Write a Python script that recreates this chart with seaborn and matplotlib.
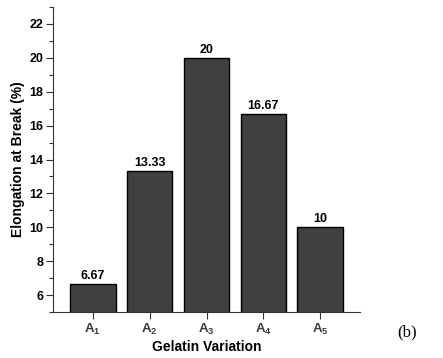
import matplotlib
matplotlib.use("Agg")
import matplotlib.pyplot as plt
import seaborn as sns
import pandas as pd
from matplotlib.ticker import MultipleLocator

categories = ["A1", "A2", "A3", "A4", "A5"]
tick_labels = [r"$\mathbf{A}_{\mathbf{1}}$", r"$\mathbf{A}_{\mathbf{2}}$", r"$\mathbf{A}_{\mathbf{3}}$",
               r"$\mathbf{A}_{\mathbf{4}}$", r"$\mathbf{A}_{\mathbf{5}}$"]
values = [6.67, 13.33, 20, 16.67, 10]
value_labels = ["6.67", "13.33", "20", "16.67", "10"]

sns.set_theme(style="ticks")
plt.rcParams["font.family"] = ["Liberation Sans", "DejaVu Sans"]
plt.rcParams["font.weight"] = "bold"
plt.rcParams["mathtext.fontset"] = "custom"
plt.rcParams["mathtext.rm"] = "Liberation Sans"
plt.rcParams["mathtext.bf"] = "Liberation Sans:bold"

df = pd.DataFrame({"cat": categories, "val": values})

fig = plt.figure(figsize=(4.43, 3.58), dpi=100)
ax = fig.add_axes([53/443, 46/358, 307/443, 305/358])
sns.barplot(data=df, x="cat", y="val", ax=ax, color="#404040", edgecolor="black",
            linewidth=1.0, width=0.8, saturation=1)
for p in ax.patches:
    p.set_facecolor("#404040")

for i, (v, lab) in enumerate(zip(values, value_labels)):
    ax.text(i, v + 0.12, lab, ha="center", va="bottom", fontsize=9, fontweight="bold", color="black")

ax.set_ylim(5, 23)
ax.set_xlim(-0.7, 4.7)
ax.yaxis.set_minor_locator(MultipleLocator(1))
ax.set_yticks([6, 8, 10, 12, 14, 16, 18, 20, 22])
ax.set_xticks(range(5))
ax.set_xticklabels(tick_labels, fontsize=9.5, color="#3a3a3a")
ax.tick_params(axis="y", which="major", length=5, width=0.8, labelsize=9, direction="out", pad=2,
               labelcolor="black", color="#333333")
ax.tick_params(axis="y", which="minor", length=3, width=0.8, direction="out", color="#333333")
ax.tick_params(axis="x", which="major", length=5, width=0.8, direction="out", pad=2, color="#333333")
for lab in ax.get_yticklabels():
    lab.set_fontweight("bold")
sns.despine(ax=ax)
for s in ("left", "bottom"):
    ax.spines[s].set_linewidth(0.8)
    ax.spines[s].set_color("#333333")

ax.set_xlabel("Gelatin Variation", fontsize=10, fontweight="bold", labelpad=2, color="black")
ax.set_ylabel("Elongation at Break (%)", fontsize=10, fontweight="bold", labelpad=3, color="black")

fig.text(397/443, 1 - 332/358, "(b)", fontsize=12, family="Liberation Serif", fontweight="normal",
         ha="left", va="center", color="black")

fig.savefig("out.png", dpi=100)
